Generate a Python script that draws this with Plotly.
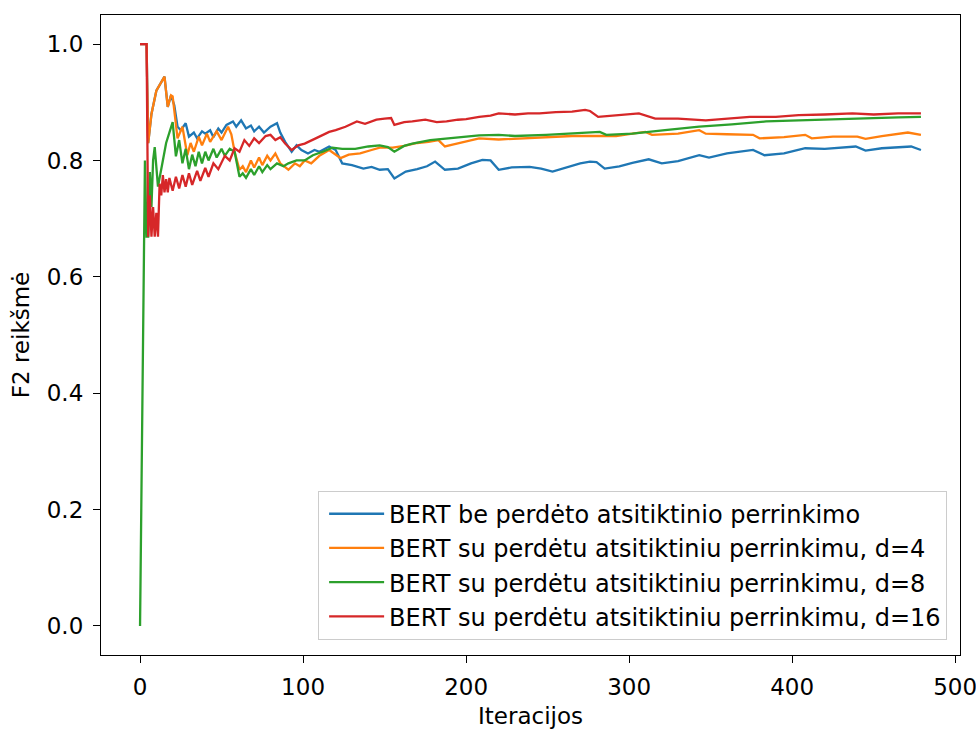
import plotly.graph_objects as go

# ---- data ----
series_names = [
    "BERT be perdėto atsitiktinio perrinkimo",
    "BERT su perdėtu atsitiktiniu perrinkimu, d=4",
    "BERT su perdėtu atsitiktiniu perrinkimu, d=8",
    "BERT su perdėtu atsitiktiniu perrinkimu, d=16",
]
series_colors = ["#1f77b4", "#ff7f0e", "#2ca02c", "#d62728"]

blue_x = [0,4,5,7,10,13,15,17,19,21,23,25,28,30,33,35,38,40,43,45,48,50,53,57,59,62,65,68,70,73,76,80,84,86,89,93,96,99,103,107,110,116,120,124,130,137,142,147,152,156,163,170,176,181,187,195,203,210,215,220,228,239,246,253,262,270,276,280,285,294,302,312,320,330,343,349,360,376,383,395,408,420,439,445,455,473,479]
blue_y = [1.0,1.0,0.83,0.88,0.92,0.935,0.944,0.892,0.912,0.895,0.858,0.852,0.864,0.841,0.848,0.838,0.85,0.846,0.852,0.84,0.855,0.848,0.861,0.867,0.858,0.869,0.855,0.86,0.85,0.858,0.848,0.858,0.864,0.848,0.832,0.815,0.826,0.818,0.812,0.818,0.815,0.824,0.818,0.795,0.792,0.786,0.789,0.784,0.785,0.769,0.781,0.785,0.79,0.798,0.784,0.786,0.795,0.801,0.8,0.784,0.788,0.789,0.786,0.781,0.789,0.795,0.798,0.797,0.786,0.79,0.796,0.802,0.795,0.799,0.809,0.805,0.812,0.818,0.809,0.812,0.821,0.82,0.824,0.817,0.821,0.824,0.818]

orange_x = [0,4,5,7,10,13,15,17,19,20,23,26,29,31,33,36,38,41,43,47,50,54,56,58,61,63,65,68,70,73,75,78,80,83,86,91,95,98,101,105,110,116,119,123,128,135,142,147,155,162,170,177,183,187,193,200,208,220,235,250,265,282,292,302,310,314,330,343,347,360,376,380,395,408,412,425,440,445,455,471,479]
orange_y = [1.0,1.0,0.83,0.88,0.92,0.935,0.944,0.892,0.912,0.91,0.838,0.858,0.809,0.83,0.815,0.841,0.826,0.846,0.832,0.85,0.835,0.858,0.845,0.815,0.784,0.79,0.78,0.8,0.788,0.805,0.792,0.808,0.8,0.812,0.795,0.784,0.795,0.79,0.8,0.795,0.808,0.818,0.812,0.804,0.81,0.812,0.818,0.822,0.822,0.825,0.83,0.832,0.835,0.824,0.828,0.833,0.838,0.836,0.838,0.84,0.842,0.842,0.842,0.846,0.849,0.844,0.846,0.852,0.846,0.845,0.844,0.838,0.84,0.844,0.838,0.841,0.841,0.837,0.842,0.848,0.844]

green_x = [0,3,4,5,6,7,8,9,11,13,14,16,18,20,22,24,26,28,30,32,34,36,38,40,42,45,47,50,52,55,58,61,63,65,68,70,73,75,78,80,84,88,91,96,101,106,112,118,124,132,140,147,152,156,162,167,178,188,198,208,220,230,249,260,270,282,286,302,322,343,363,384,404,424,445,465,479]
green_y = [0.0,0.8,0.669,0.669,0.78,0.72,0.8,0.823,0.755,0.79,0.8,0.83,0.85,0.866,0.807,0.835,0.795,0.82,0.785,0.81,0.79,0.815,0.795,0.815,0.8,0.82,0.805,0.82,0.808,0.82,0.815,0.772,0.778,0.77,0.785,0.775,0.79,0.78,0.792,0.785,0.795,0.79,0.795,0.8,0.8,0.809,0.815,0.822,0.82,0.82,0.824,0.826,0.823,0.815,0.825,0.829,0.835,0.838,0.84,0.843,0.844,0.842,0.844,0.846,0.847,0.849,0.844,0.846,0.852,0.858,0.862,0.867,0.869,0.871,0.872,0.874,0.875]

red_x = [0,4,5,6,7,8,9,10,11,12,13,14,15,16,17,18,20,22,24,26,28,30,32,35,37,40,42,45,48,52,55,58,61,64,67,70,73,77,80,83,86,89,93,97,101,106,110,116,120,126,133,138,145,150,154,156,162,167,175,182,188,195,200,208,215,220,230,238,245,255,265,273,276,281,294,306,316,330,347,360,374,390,404,420,437,450,465,479]
red_y = [1.0,1.0,0.669,0.74,0.669,0.72,0.669,0.71,0.669,0.76,0.74,0.775,0.745,0.768,0.745,0.77,0.748,0.772,0.752,0.775,0.755,0.778,0.758,0.782,0.765,0.787,0.772,0.795,0.785,0.808,0.8,0.821,0.815,0.835,0.825,0.838,0.83,0.842,0.844,0.835,0.84,0.829,0.818,0.826,0.829,0.835,0.841,0.849,0.852,0.858,0.867,0.863,0.87,0.872,0.873,0.861,0.866,0.867,0.87,0.866,0.867,0.87,0.871,0.875,0.877,0.881,0.879,0.881,0.881,0.883,0.884,0.887,0.885,0.875,0.878,0.881,0.872,0.872,0.869,0.872,0.875,0.875,0.878,0.879,0.881,0.879,0.881,0.881]

x_ticks = [0, 100, 200, 300, 400, 500]
y_ticks = [0.0, 0.2, 0.4, 0.6, 0.8, 1.0]
x_title = "Iteracijos"
y_title = "F2 reikšmė"

# ---- figure ----
FONT = "DejaVu Sans"
FS = 23
fig = go.Figure()
all_x = [blue_x, orange_x, green_x, red_x]
all_y = [blue_y, orange_y, green_y, red_y]
for i, (xs, ys) in enumerate(zip(all_x, all_y)):
    fig.add_trace(go.Scatter(
        x=xs, y=ys, mode="lines", name=series_names[i],
        line=dict(color=series_colors[i], width=2.3),
        legendgroup="g%d" % i,
    ))

axis_common = dict(
    showline=True, linecolor="black", linewidth=1.2, mirror=True,
    ticks="outside", ticklen=7, tickwidth=1.2, tickcolor="black",
    showgrid=False, zeroline=False, automargin=False,
    ticklabeloverflow="allow",
    tickfont=dict(family=FONT, size=FS, color="black"),
)
fig.update_xaxes(range=[-23.95, 502.95], tickvals=x_ticks, ticklabelstandoff=4,
                 title=dict(text=x_title, font=dict(family=FONT, size=FS, color="black"), standoff=10),
                 **axis_common)
fig.update_yaxes(range=[-0.05, 1.05], tickvals=y_ticks, tickformat=".1f", ticklabelstandoff=5,
                 title=dict(text=y_title, font=dict(family=FONT, size=FS, color="black"), standoff=10),
                 **axis_common)

fig.update_layout(
    width=976, height=729,
    margin=dict(l=101, r=16, t=15, b=74, autoexpand=False),
    paper_bgcolor="white", plot_bgcolor="white",
    font=dict(family=FONT, size=FS, color="black"),
    showlegend=True,
    legend=dict(
        x=0.985, y=0.024, xanchor="right", yanchor="bottom",
        bgcolor="rgba(255,255,255,0.8)", bordercolor="#cccccc", borderwidth=1,
        font=dict(family=FONT, size=24, color="black"),
        tracegroupgap=0, itemwidth=55, indentation=5,
    ),
)

fig.write_html("out.html")
